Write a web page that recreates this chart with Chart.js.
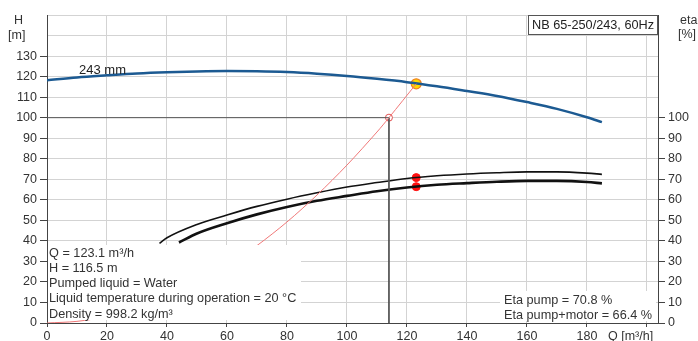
<!DOCTYPE html>
<html>
<head>
<meta charset="utf-8">
<script src="https://cdn.jsdelivr.net/npm/chart.js@4.4.1/dist/chart.umd.min.js"></script>
<style>
  html, body { margin: 0; padding: 0; background: #fff; }
  #wrap { width: 698px; height: 341px; }
</style>
</head>
<body>
<div id="wrap"><canvas id="curva" width="698" height="341"></canvas></div>
<script>
// curva H (243 mm)
const qHead = [0, 10, 20, 30, 40, 50, 60, 70, 80, 90, 100, 110, 120, 130, 140, 150, 160, 170, 180, 185];
const head = [118.2, 119.6, 120.6, 121.5, 122.1, 122.5, 122.7, 122.6, 122.2, 121.4, 120.3, 118.9, 117.3, 115.3, 113.0, 110.6, 107.6, 104.3, 100.2, 97.8];

// eta pump
const qEtaPump = [37.5, 40, 50, 60, 70, 80, 90, 100, 110, 120, 130, 140, 150, 160, 170, 180, 185];
const etaPump = [38.8, 41.5, 48.0, 52.6, 56.8, 60.3, 63.4, 66.2, 68.4, 70.4, 71.7, 72.6, 73.2, 73.6, 73.6, 73.0, 72.4];

// eta pump+motor
const qEtaTotal = [44, 50, 60, 70, 80, 90, 100, 110, 120, 130, 140, 150, 160, 170, 180, 185];
const etaTotal = [39.2, 43.6, 48.6, 52.9, 56.5, 59.5, 61.9, 64.2, 66.0, 67.3, 68.1, 68.8, 69.2, 69.2, 68.7, 68.0];

// curva do sistema
const qSystem = [0, 10, 20, 30, 40, 50, 60, 70, 80, 90, 100, 110, 114, 123.1];
const hSystem = [0, 0.8, 3.1, 6.9, 12.3, 19.2, 27.7, 37.7, 49.2, 62.3, 76.9, 93.0, 100, 116.5];

// ponto de trabalho
const dutyQ = 123.1;
const dutyH = 116.5;
const dutyEtaPump = 70.8;
const dutyEtaTotal = 66.4;
const reqQ = 114;
const reqH = 100;

const xTicks = [0, 20, 40, 60, 80, 100, 120, 140, 160, 180, 200];
const yTicks = [0, 10, 20, 30, 40, 50, 60, 70, 80, 90, 100, 110, 120, 130, 140, 150];

const fonte = '"Liberation Sans", Arial, sans-serif';

function pontos(xs, ys) {
    return xs.map(function(x, i) { return { x: x, y: ys[i] }; });
}

// caixas de texto e rótulos
const textos = {
    id: 'textos',
    afterDatasetsDraw: function(chart) {
        const ctx = chart.ctx;
        ctx.save();
        ctx.font = '12.7px ' + fonte;
        ctx.textBaseline = 'middle';
        ctx.textAlign = 'left';

        // caixa esquerda
        ctx.fillStyle = '#ffffff';
        ctx.fillRect(48, 245, 253, 75);
        ctx.fillStyle = '#333';
        const linhas = [
            'Q = 123.1 m³/h',
            'H = 116.5 m',
            'Pumped liquid = Water',
            'Liquid temperature during operation = 20 °C',
            'Density = 998.2 kg/m³'
        ];
        linhas.forEach(function(t, i) {
            ctx.fillText(t, 49, 253 + i * 15.3);
        });

        // caixa eta
        ctx.fillStyle = '#ffffff';
        ctx.fillRect(500, 291, 156, 30);
        ctx.fillStyle = '#333';
        ctx.fillText('Eta pump = 70.8 %', 504, 300);
        ctx.fillText('Eta pump+motor = 66.4 %', 504, 315);

        // titulo
        ctx.fillStyle = '#ffffff';
        ctx.fillRect(528, 15, 130, 20);
        ctx.strokeStyle = '#555';
        ctx.lineWidth = 1;
        ctx.strokeRect(528.5, 15.5, 129, 19);
        ctx.fillStyle = '#222';
        ctx.fillText('NB 65-250/243, 60Hz', 532, 25.5);

        // 243 mm
        ctx.font = '13px ' + fonte;
        ctx.fillText('243 mm', 79, 70);

        // eixos
        ctx.font = '12.5px ' + fonte;
        ctx.fillStyle = '#333';
        ctx.fillText('H', 14, 21);
        ctx.fillText('[m]', 8, 36);
        ctx.fillText('eta', 680, 21);
        ctx.fillText('[%]', 678, 35);
        ctx.font = '12.5px ' + fonte;
        ctx.fillText('Q [m³/h]', 608, 337);
        ctx.restore();
    }
};

const ctx = document.getElementById('curva').getContext('2d');
const myChart = new Chart(ctx, {
    type: 'scatter',
    data: {
        datasets: [
            { data: pontos(qSystem, hSystem), showLine: true, borderColor: '#f07878', borderWidth: 1, pointRadius: 0, tension: 0.3 },
            { data: [{ x: 0, y: reqH }, { x: reqQ, y: reqH }, { x: reqQ, y: 0 }], showLine: true, borderColor: '#555', borderWidth: 1, pointRadius: 0 },
            { data: pontos(qHead, head), showLine: true, borderColor: '#1c5a92', borderWidth: 2.5, pointRadius: 0, cubicInterpolationMode: 'monotone' },
            { data: pontos(qEtaPump, etaPump), showLine: true, borderColor: '#111', borderWidth: 1.6, pointRadius: 0, cubicInterpolationMode: 'monotone', yAxisID: 'y2' },
            { data: pontos(qEtaTotal, etaTotal), showLine: true, borderColor: '#111', borderWidth: 2.6, pointRadius: 0, cubicInterpolationMode: 'monotone', yAxisID: 'y2' },
            { data: [{ x: reqQ, y: reqH }], pointRadius: 3.5, pointBackgroundColor: '#fff', pointBorderColor: '#e05050', pointBorderWidth: 1 },
            { data: [{ x: dutyQ, y: dutyH }], pointRadius: 5, pointBackgroundColor: '#ffd800', pointBorderColor: '#f08020', pointBorderWidth: 1.2 },
            { data: [{ x: dutyQ, y: dutyEtaPump }, { x: dutyQ, y: dutyEtaTotal }], pointRadius: 4, pointBackgroundColor: '#ff1010', pointBorderColor: '#ff1010', yAxisID: 'y2' }
        ]
    },
    options: {
        responsive: false,
        devicePixelRatio: 1,
        animation: false,
        events: [],
        layout: { padding: { top: 15 } },
        plugins: {
            legend: { display: false },
            tooltip: { enabled: false }
        },
        scales: {
            x: {
                type: 'linear',
                min: 0,
                max: 203.7,
                afterBuildTicks: function(scale) {
                    scale.ticks = xTicks.map(function(v) { return { value: v }; });
                },
                afterFit: function(scale) { scale.height = 18; },
                grid: {
                    color: '#d3d3d3',
                    tickColor: '#444',
                    tickLength: 4
                },
                border: { color: '#444', width: 1 },
                ticks: {
                    padding: 2,
                    maxRotation: 0,
                    autoSkip: false,
                    color: '#333',
                    font: { family: fonte, size: 12.5 },
                    callback: function(v) { return v > 180 ? '' : v; }
                }
            },
            y: {
                position: 'left',
                min: 0,
                max: 150,
                afterBuildTicks: function(scale) {
                    scale.ticks = yTicks.map(function(v) { return { value: v }; });
                },
                afterFit: function(scale) { scale.width = 47; },
                grid: {
                    color: '#d3d3d3',
                    tickLength: 7,
                    tickColor: function(c) { return c.tick && c.tick.value > 130 ? 'rgba(0,0,0,0)' : '#444'; }
                },
                border: { color: '#444', width: 1 },
                ticks: {
                    padding: 3,
                    autoSkip: false,
                    color: '#333',
                    font: { family: fonte, size: 12.5 },
                    callback: function(v) { return v > 130 ? '' : v; }
                }
            },
            y2: {
                position: 'right',
                min: 0,
                max: 150,
                afterBuildTicks: function(scale) {
                    scale.ticks = yTicks.map(function(v) { return { value: v }; });
                },
                afterFit: function(scale) { scale.width = 40; },
                grid: {
                    drawOnChartArea: false,
                    tickLength: 7,
                    tickColor: function(c) { return c.tick && c.tick.value > 100 ? 'rgba(0,0,0,0)' : '#444'; }
                },
                border: { color: '#444', width: 1 },
                ticks: {
                    padding: 3,
                    autoSkip: false,
                    color: '#333',
                    font: { family: fonte, size: 12.5 },
                    callback: function(v) { return v > 100 ? '' : v; }
                }
            }
        }
    },
    plugins: [textos]
});
</script>
</body>
</html>
